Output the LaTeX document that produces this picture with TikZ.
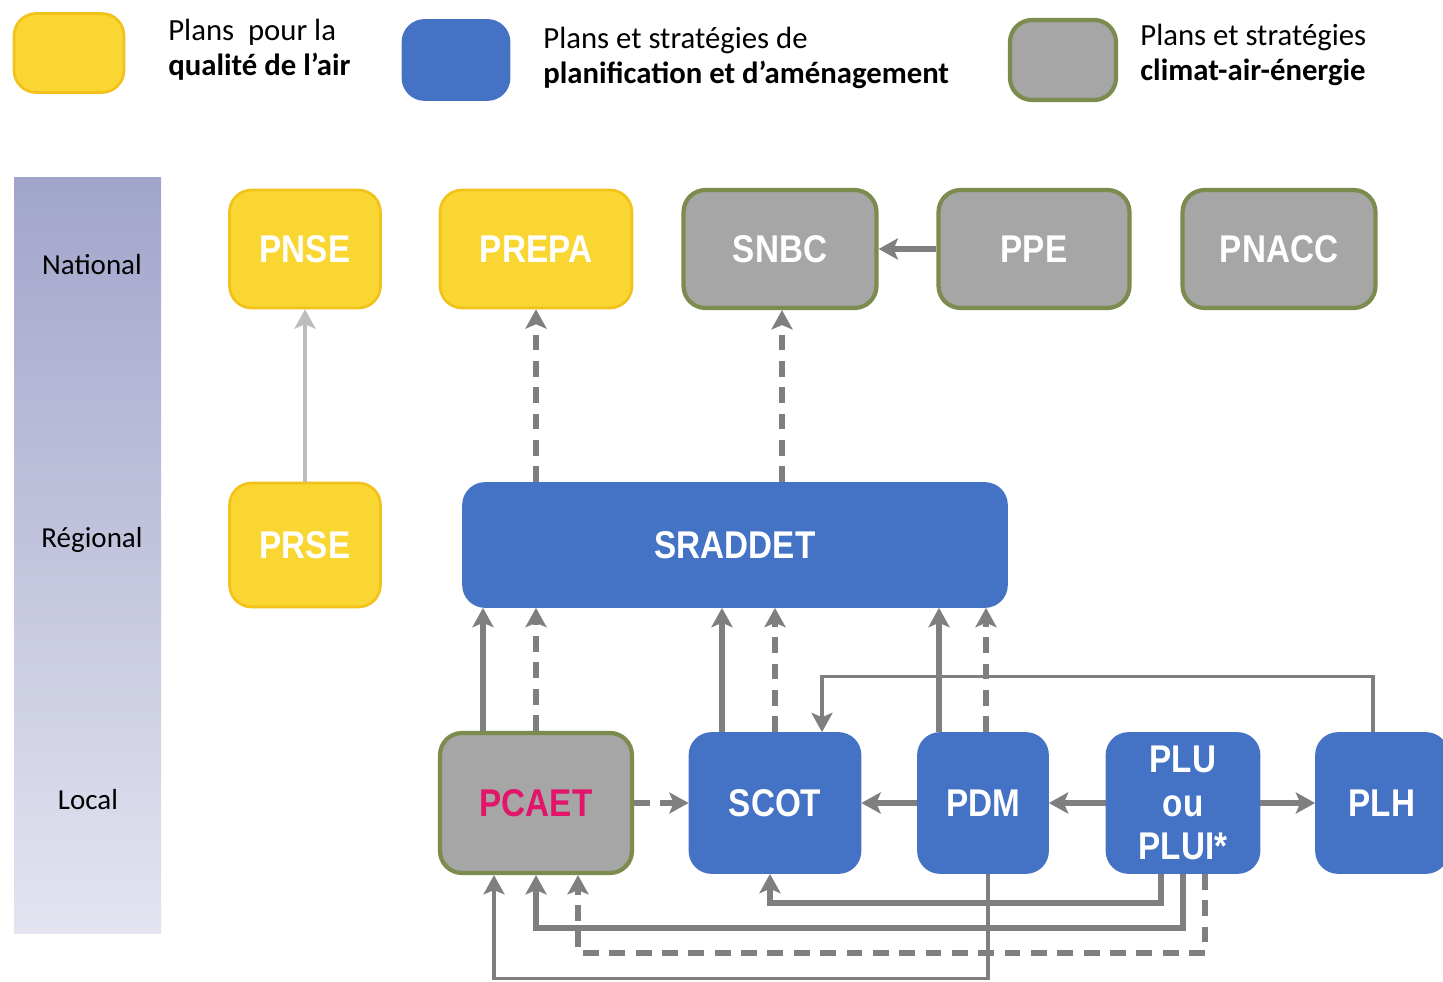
\documentclass[tikz,border=0pt]{standalone}
\usepackage{fontspec}
\setmainfont{Carlito}
\newfontfamily\boxfont[FakeStretch=0.86]{Liberation Sans}
\usepackage{tikz}
\usepackage{xcolor}
\usetikzlibrary{arrows.meta,calc}
\definecolor{airyellow}{HTML}{FAD632}
\definecolor{airedge}{HTML}{F3C21A}
\definecolor{planblue}{HTML}{4472C4}
\definecolor{climgray}{HTML}{A6A6A6}
\definecolor{climedge}{HTML}{7B8C4E}
\definecolor{linkgray}{HTML}{7F7F7F}
\definecolor{lightlink}{HTML}{BDBDBD}
\definecolor{pcaetpink}{HTML}{E2156A}
\definecolor{bandtop}{HTML}{A2A5CB}
\definecolor{bandbottom}{HTML}{E3E4F0}
\tikzset{
    any-box/.style = {rectangle, rounded corners=0.44cm, inner sep=0pt, align=center, text=white, font=\boxfont\bfseries\fontsize{22}{24}\selectfont},
    air-box/.style = {any-box, fill=airyellow, draw=airedge, line width=1.5pt},
    plan-box/.style = {any-box, fill=planblue, draw=planblue, line width=1pt},
    clim-box/.style = {any-box, fill=climgray, draw=climedge, line width=2.4pt},
    legend-text/.style = {anchor=west, align=left, inner sep=0pt, font=\fontsize{17.5}{20}\selectfont},
    level-text/.style = {font=\fontsize{16.5}{20}\selectfont},
    plain-link/.style = {draw=linkgray, line width=3pt, -{Stealth[length=11pt,width=12pt,inset=2.5pt]}},
    dashed-link/.style = {plain-link, dash pattern=on 9pt off 6pt},
    thin-link/.style = {plain-link, line width=1.8pt},
}

\begin{document}
\begin{tikzpicture}[x=0.02cm, y=-0.02cm]
\useasboundingbox (0,0) rectangle (1443,982);
\fill[white] (0,0) rectangle (1443,982);

\node[air-box, minimum width=2.2cm, minimum height=1.58cm] (key-air) at (69,53) {};
\node[legend-text] (key-air-text) at (168,50) {Plans\ \ pour la\\\textbf{qualité de l’air}};
\node[plan-box, minimum width=2.14cm, minimum height=1.6cm] (key-plan) at (456,60) {};
\node[legend-text] (key-plan-text) at (543,58) {Plans et stratégies de\\\textbf{planification et d’aménagement}};
\node[clim-box, minimum width=2.12cm, minimum height=1.6cm] (key-clim) at (1063,60) {};
\node[legend-text] (key-clim-text) at (1140,55) {Plans et stratégies\\\textbf{climat-air-énergie}};

\shade[top color=bandtop, bottom color=bandbottom] (14,178) rectangle (161,933);
\node[level-text] (national) at (92,265) {National};
\node[level-text] (regional) at (92,540) {Régional};
\node[level-text] (local) at (88,800) {Local};

\node[air-box, minimum width=3.02cm, minimum height=2.36cm] (pnse) at (305,249) {PNSE};
\node[air-box, minimum width=3.84cm, minimum height=2.36cm] (prepa) at (536,249) {PREPA};
\node[clim-box, minimum width=3.86cm, minimum height=2.36cm] (snbc) at (780,249) {SNBC};
\node[clim-box, minimum width=3.82cm, minimum height=2.36cm] (ppe) at (1034,249) {PPE};
\node[clim-box, minimum width=3.86cm, minimum height=2.36cm] (pnacc) at (1279,249) {PNACC};

\node[air-box, minimum width=3.02cm, minimum height=2.48cm] (prse) at (305,545) {PRSE};
\node[plan-box, minimum width=10.88cm, minimum height=2.48cm] (sraddet) at (735,545) {SRADDET};

\node[clim-box, minimum width=3.84cm, minimum height=2.8cm, text=pcaetpink] (pcaet) at (536,803) {PCAET};
\node[plan-box, minimum width=3.42cm, minimum height=2.8cm] (scot) at (775,803) {SCOT};
\node[plan-box, minimum width=2.6cm, minimum height=2.8cm] (pdm) at (983,803) {PDM};
\node[plan-box, minimum width=3.06cm, minimum height=2.8cm] (plu) at (1183,803) {PLU\\[0.6pt]ou\\[0.6pt]PLUI*};
\node[plan-box, minimum width=2.64cm, minimum height=2.8cm] (plh) at (1382,803) {PLH};

\coordinate (snbc-in) at ($(snbc.south)+(2,0)$);
\coordinate (pcaet-up) at ($(pcaet.north)+(-53,0)$);
\coordinate (scot-up) at ($(scot.north)+(-53,0)$);
\coordinate (pdm-up) at ($(pdm.north)+(-44,0)$);
\coordinate (pdm-up-d) at ($(pdm.north)+(3,0)$);

\draw[plain-link, draw=lightlink, line width=2.2pt] (prse) -- (pnse);
\draw[dashed-link] (prepa.south |- sraddet.north) -- (prepa.south);
\draw[dashed-link] (snbc-in |- sraddet.north) -- (snbc-in);
\draw[plain-link] (ppe) -- (snbc);

\draw[plain-link] (pcaet-up) -- (pcaet-up |- sraddet.south);
\draw[dashed-link] (pcaet.north) -- (pcaet.north |- sraddet.south);
\draw[plain-link] (scot-up) -- (scot-up |- sraddet.south);
\draw[dashed-link] (scot.north) -- (scot.north |- sraddet.south);
\draw[plain-link] (pdm-up) -- (pdm-up |- sraddet.south);
\draw[dashed-link] (pdm-up-d) -- (pdm-up-d |- sraddet.south);

\draw[thin-link] ($(plh.north)+(-9,0)$) -- ++(0,-56) -| ($(scot.north)+(47,0)$);

\draw[dashed-link] (pcaet) -- (scot);
\draw[plain-link] (pdm) -- (scot);
\draw[plain-link] (plu) -- (pdm);
\draw[plain-link] (plu) -- (plh);

\draw[plain-link] ($(plu.south)+(-22,0)$) -- ++(0,29) -| ($(scot.south)+(-5,0)$);
\draw[plain-link] (plu.south) -- ++(0,54) -| (pcaet.south);
\draw[dashed-link] ($(plu.south)+(22,0)$) -- ++(0,79) -| ($(pcaet.south)+(42,0)$);
\draw[thin-link] ($(pdm.south)+(5,0)$) -- ++(0,105) -| ($(pcaet.south)+(-42,0)$);
\end{tikzpicture}
\end{document}
